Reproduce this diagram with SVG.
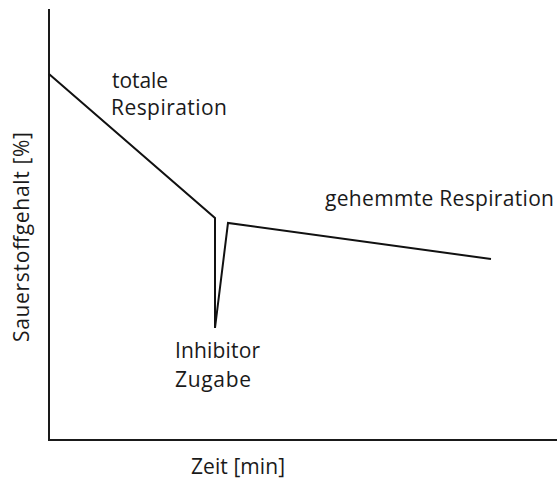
<svg xmlns="http://www.w3.org/2000/svg" width="557" height="481" viewBox="0 0 557 481">
<style>
text{font-family:"Open Sans","Noto Sans",sans-serif;font-size:21px;fill:#1a1a1a}
.ax{stroke:#1a1a1a;stroke-width:2;fill:none}
.ln{stroke:#111;stroke-width:2;fill:none;stroke-linejoin:miter}
</style>
<rect width="557" height="481" fill="#fff"/>
<g id="axes">
<path class="ax" d="M49,9 V440 H557"/>
</g>
<g id="connectors">
<polyline class="ln" points="49,74 215,218 215,328 228,223 491,259"/>
</g>
<g id="labels">
<text x="112" y="88" textLength="56">totale</text>
<text x="111" y="115" textLength="116">Respiration</text>
<text x="325" y="206" textLength="229">gehemmte Respiration</text>
<text x="175" y="358" textLength="85">Inhibitor</text>
<text x="175" y="387" textLength="76">Zugabe</text>
<text x="191" y="474" textLength="94">Zeit [min]</text>
<text transform="translate(29,237) rotate(-90)" text-anchor="middle" textLength="210">Sauerstoffgehalt [%]</text>
</g>
</svg>
